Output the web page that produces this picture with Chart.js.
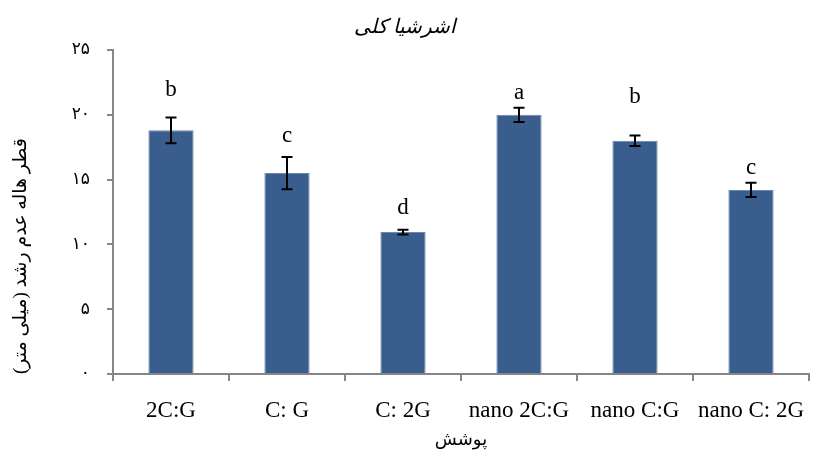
<!DOCTYPE html>
<html>
<head>
<meta charset="utf-8">
<script src="https://cdn.jsdelivr.net/npm/chart.js@4"></script>
<style>
  html, body { margin: 0; padding: 0; background: #ffffff; }
  #wrap { width: 813px; height: 455px; position: relative; }
</style>
</head>
<body>
<div id="wrap"><canvas id="c"></canvas></div>
<script>
// ---- data ----
const categories = ['2C:G', 'C: G', 'C: 2G', 'nano 2C:G', 'nano C:G', 'nano C: 2G'];
const means = [18.8, 15.5, 10.95, 20.0, 18.0, 14.2];
const errors = [1.0, 1.25, 0.18, 0.55, 0.4, 0.55];
const letters = ['b', 'c', 'd', 'a', 'b', 'c'];
const letterLevels = [21.9, 18.4, 12.8, 21.7, 21.4, 15.9];
const yTickValues = [0, 5, 10, 15, 20, 25];
const chartTitle = 'اشرشیا کلی';
const xTitle = 'پوشش';
const yTitle = 'قطر هاله عدم رشد (میلی متر)';

const persianDigits = ['۰','۱','۲','۳','۴','۵','۶','۷','۸','۹'];
function toPersian(n) {
  return String(n).split('').map(ch => /[0-9]/.test(ch) ? persianDigits[+ch] : ch).join('');
}

const AXIS = '#868686';
const SERIF = '"Liberation Serif", "DejaVu Sans", serif';

const errorBarPlugin = {
  id: 'errorBars',
  afterDatasetsDraw(chart) {
    const ctx = chart.ctx;
    const yScale = chart.scales.y;
    const meta = chart.getDatasetMeta(0);
    ctx.save();
    meta.data.forEach((bar, i) => {
      const x = bar.x;
      const yTop = yScale.getPixelForValue(means[i] + errors[i]);
      const yBot = yScale.getPixelForValue(means[i] - errors[i]);
      const cap = 5.5;
      ctx.strokeStyle = '#000000';
      ctx.lineWidth = 2;
      ctx.beginPath();
      ctx.moveTo(x, yTop); ctx.lineTo(x, yBot);
      ctx.moveTo(x - cap, yTop); ctx.lineTo(x + cap, yTop);
      ctx.moveTo(x - cap, yBot); ctx.lineTo(x + cap, yBot);
      ctx.stroke();
      // significance letter
      ctx.fillStyle = '#000000';
      ctx.font = '23px ' + SERIF;
      ctx.textAlign = 'center';
      ctx.textBaseline = 'middle';
      ctx.fillText(letters[i], x, yScale.getPixelForValue(letterLevels[i]));
    });
    ctx.restore();
  }
};

new Chart(document.getElementById('c'), {
  type: 'bar',
  data: {
    labels: categories,
    datasets: [{
      data: means,
      backgroundColor: '#395E8D',
      borderColor: '#6B88AF',
      borderWidth: 1,
      barPercentage: 0.39,
      categoryPercentage: 1.0
    }]
  },
  options: {
    responsive: true,
    maintainAspectRatio: false,
    animation: false,
    layout: { padding: { left: 0, right: 4, top: 0, bottom: 0 } },
    plugins: {
      legend: { display: false },
      tooltip: { enabled: false },
      title: {
        display: true,
        text: chartTitle,
        color: '#000000',
        font: { family: SERIF, size: 20, style: 'italic', weight: 'normal' },
        padding: { top: 16, bottom: 10 }
      }
    },
    scales: {
      x: {
        grid: { display: true, drawOnChartArea: false, offset: true, color: AXIS, lineWidth: 2, tickLength: 7 },
        border: { display: true, color: AXIS, width: 2 },
        ticks: { color: '#000000', font: { family: SERIF, size: 23 }, padding: 16, maxRotation: 0, autoSkip: false },
        title: {
          display: true, text: xTitle, color: '#000000',
          font: { family: SERIF, size: 18 }, padding: { top: 4, bottom: 4 }
        },
        afterFit(scale) { scale.height = 81; scale.paddingLeft = 0; scale.paddingRight = 0; }
      },
      y: {
        min: 0, max: 25,
        afterBuildTicks(scale) { scale.ticks = yTickValues.map(v => ({ value: v })); },
        grid: { display: true, drawOnChartArea: false, color: AXIS, lineWidth: 2, tickLength: 6 },
        border: { display: true, color: AXIS, width: 2 },
        ticks: {
          color: '#000000', font: { family: '"DejaVu Sans", sans-serif', size: 17 }, padding: 17,
          callback: (v) => toPersian(v)
        },
        title: {
          display: true, text: yTitle, color: '#000000', align: 'start',
          font: { family: SERIF, size: 19 }, padding: { top: 10, bottom: 0 }
        },
        afterFit(scale) { scale.width = 113; }
      }
    }
  },
  plugins: [errorBarPlugin]
});
</script>
</body>
</html>
